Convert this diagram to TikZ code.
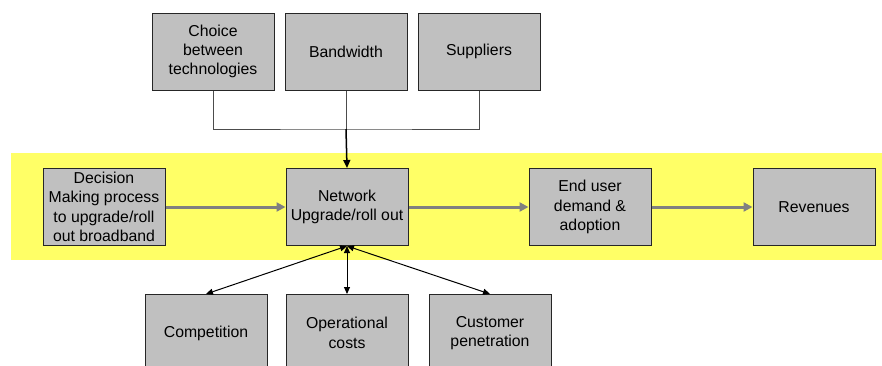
\documentclass[tikz,border=0pt]{standalone}
\usepackage{fontspec}
\setmainfont{Liberation Sans}
\usetikzlibrary{arrows.meta}
\definecolor{boxgray}{HTML}{C0C0C0}
\definecolor{band}{HTML}{FFFF66}
\definecolor{flowgray}{HTML}{808080}
\begin{document}
\begin{tikzpicture}[x=1pt,y=-1pt,
  box/.style={draw=black!85,line width=1pt,fill=boxgray,minimum width=122pt,minimum height=77pt,
    inner sep=1pt,align=center,font=\fontsize{15.8}{19.4}\selectfont},
  flow/.style={draw=flowgray,line width=3pt,-{Triangle[length=9pt,width=9pt]}},
  link/.style={draw=black!70,line width=1pt},
  biarrow/.style={draw=black,line width=1pt,{Triangle[length=7pt,width=6pt]}-{Triangle[length=7pt,width=6pt]}}]
\useasboundingbox (0,0) rectangle (882,365);
\clip (0,0) rectangle (882,365);
\fill[band] (11,153) rectangle (882,260);
% top
\node[box] (choice) at (213,51.5) {Choice\\between\\technologies};
\node[box] (bw) at (346,51.5) {Bandwidth};
\node[box] (sup) at (479,51.5) {Suppliers};
% middle
\node[box] (dec) at (104,207) {Decision\\Making process\\to upgrade/roll\\out broadband};
\node[box] (net) at (347,207) {Network\\Upgrade/roll out};
\node[box] (end) at (590,207) {End user\\demand \&\\adoption};
\node[box] (rev) at (814,207) {Revenues};
% bottom
\node[box] (comp) at (206,333) {Competition};
\node[box] (ops) at (347,333) {Operational\\costs};
\node[box] (cust) at (490,333) {Customer\\penetration};
% connectors
\coordinate (j) at (346,129);
\draw[link] (choice.south) |- (j) -| (sup.south);
\draw[link] (bw.south) -- (j);
\draw[line width=1.5pt,-{Triangle[length=8pt,width=7pt]}] (j) -- (net.north);
\draw[flow] (dec.east) -- (net.west);
\draw[flow] (net.east) -- (end.west);
\draw[flow] (end.east) -- (rev.west);
\draw[biarrow] (net.south) -- (comp.north);
\draw[biarrow] (net.south) -- (ops.north);
\draw[biarrow] (net.south) -- (cust.north);
\end{tikzpicture}
\end{document}
